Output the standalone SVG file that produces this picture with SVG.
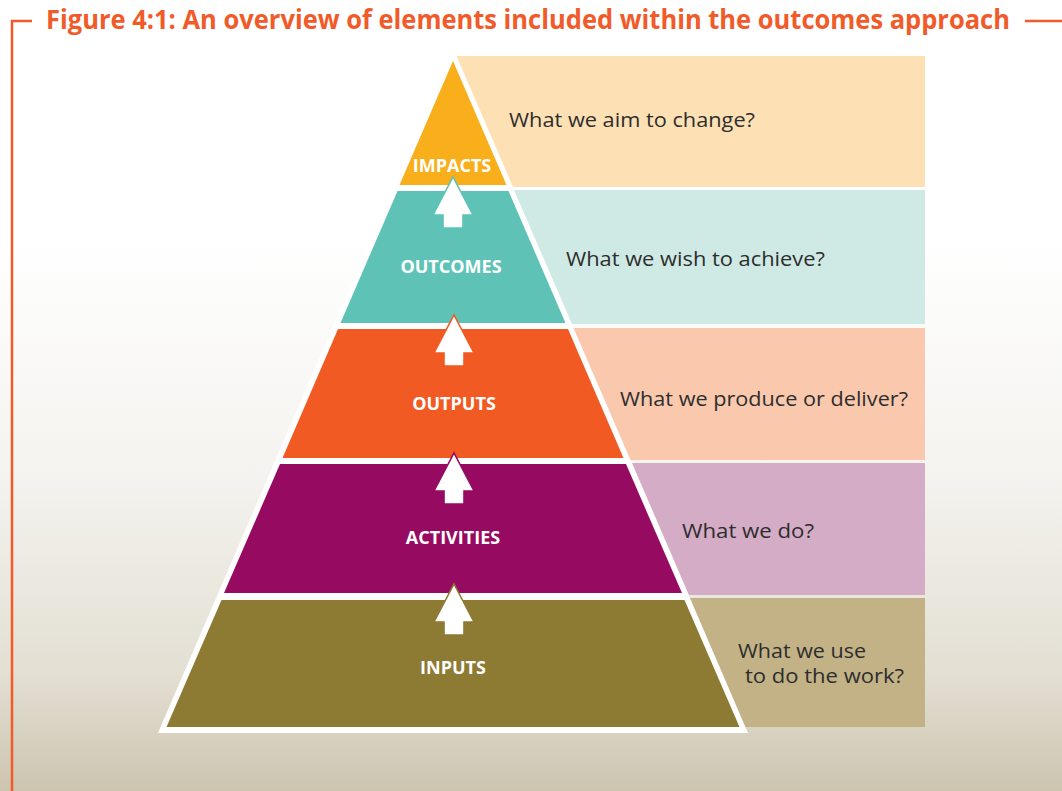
<svg xmlns="http://www.w3.org/2000/svg" width="1062" height="791" viewBox="0 0 1062 791">
  <defs>
    <linearGradient id="bg" x1="0" y1="0" x2="0" y2="1">
      <stop offset="0" stop-color="#FFFFFF"/>
      <stop offset="0.3" stop-color="#FFFFFF"/>
      <stop offset="0.6" stop-color="#F4F3EF"/>
      <stop offset="0.85" stop-color="#E3DFD3"/>
      <stop offset="1" stop-color="#CDC5B0"/>
    </linearGradient>
    <path id="arrow" d="M0,0 L20,38 L10,38 L10,51 L-10,51 L-10,38 L-20,38 Z"/>
  </defs>
  <style>
    .frame { stroke: #F15A29; stroke-width: 2.5; fill: none; }
    .title { font-family: "Open Sans", "Liberation Sans", sans-serif; font-weight: 700; font-size: 26px; fill: #F15A29; }
    .lvl { font-family: "Open Sans", "Liberation Sans", sans-serif; font-weight: 700; font-size: 18px; fill: #FFFFFF; text-anchor: middle; }
    .q { font-family: "Open Sans", "Liberation Sans", sans-serif; font-size: 20px; fill: #2D2D2D; }
    .arr { fill: #FFFFFF; stroke-width: 1.6; stroke-linejoin: miter; }
  </style>

  <rect x="0" y="0" width="1062" height="791" fill="url(#bg)"/>

  <!-- frame and title -->
  <g id="frame">
    <polyline class="frame" points="32,21 12,21 12,791"/>
    <line class="frame" x1="1025" y1="21" x2="1062" y2="21"/>
    <text class="title" x="46" y="29" textLength="964" lengthAdjust="spacingAndGlyphs">Figure 4:1: An overview of elements included within the outcomes approach</text>
  </g>

  <!-- white pyramid silhouette -->
  <polygon points="453,47 748,733 158,733" fill="#FFFFFF"/>

  <g id="impacts">
    <polygon points="456.5,56 925,56 925,187 513,187" fill="#FDE1B4"/>
    <polygon points="453,61 506.5,185 399.5,185" fill="#F8AF1B"/>
    <text class="lvl" x="452" y="172">IMPACTS</text>
    <text class="q" x="509" y="127" textLength="246" lengthAdjust="spacingAndGlyphs">What we aim to change?</text>
  </g>

  <g id="outcomes">
    <polygon points="514,190 925,190 925,324 572,324" fill="#CFE9E4"/>
    <polygon points="397.5,191 508.5,191 565.5,323 340.5,323" fill="#5EC3B6"/>
    <text class="lvl" x="451" y="273">OUTCOMES</text>
    <text class="q" x="566" y="266" textLength="259" lengthAdjust="spacingAndGlyphs">What we wish to achieve?</text>
  </g>

  <g id="outputs">
    <polygon points="573.5,328 925,328 925,460 630.5,460" fill="#FAC9AD"/>
    <polygon points="338,329 568,329 623.5,458 282.5,458" fill="#F15A22"/>
    <text class="lvl" x="454" y="410">OUTPUTS</text>
    <text class="q" x="620" y="406" textLength="288" lengthAdjust="spacingAndGlyphs">What we produce or deliver?</text>
  </g>

  <g id="activities">
    <polygon points="632,463 925,463 925,595 689,595" fill="#D5ACC5"/>
    <polygon points="280,464 626,464 682,593 224,593" fill="#970A61"/>
    <text class="lvl" x="453" y="544">ACTIVITIES</text>
    <text class="q" x="682" y="538" textLength="132" lengthAdjust="spacingAndGlyphs">What we do?</text>
  </g>

  <g id="inputs">
    <polygon points="690,598 925,598 925,727 745.5,727" fill="#C2B286"/>
    <polygon points="221.5,600 684.5,600 739.5,727 166.5,727" fill="#8D7A33"/>
    <text class="lvl" x="453" y="674">INPUTS</text>
    <text class="q" x="738" y="658" textLength="128" lengthAdjust="spacingAndGlyphs">What we use</text>
    <text class="q" x="745" y="683" textLength="159" lengthAdjust="spacingAndGlyphs">to do the work?</text>
  </g>

  <g id="connectors">
    <use href="#arrow" class="arr" stroke="#5EC3B6" transform="translate(453,177)"/>
    <use href="#arrow" class="arr" stroke="#F15A22" transform="translate(454,315)"/>
    <use href="#arrow" class="arr" stroke="#970A61" transform="translate(454,453)"/>
    <use href="#arrow" class="arr" stroke="#8D7A33" transform="translate(454,584)"/>
  </g>
</svg>
